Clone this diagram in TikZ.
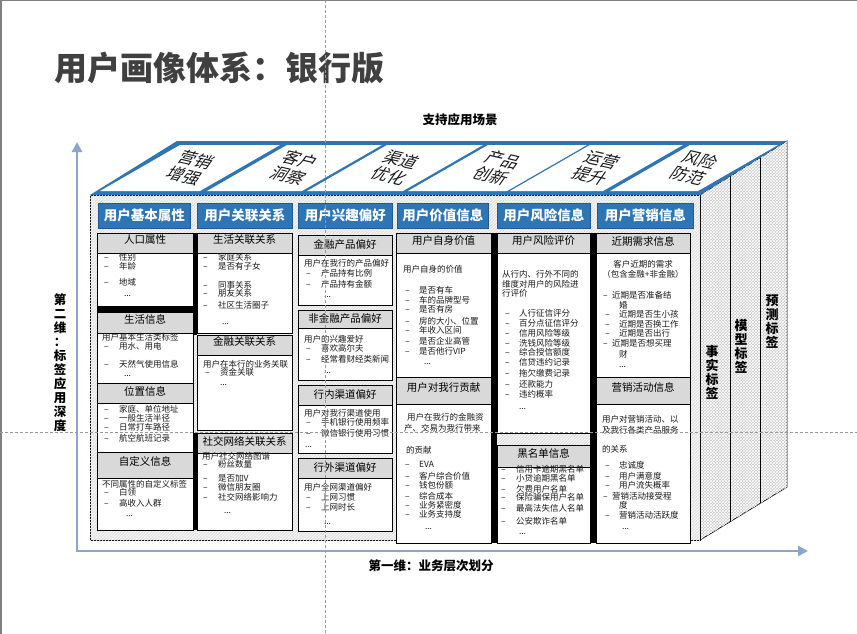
\documentclass[tikz,border=0pt]{standalone}
\usepackage{fontspec}
\setmainfont{Noto Sans CJK SC}
\usetikzlibrary{patterns,arrows.meta}
\definecolor{hblue}{HTML}{2E75B6}
\definecolor{hbluedk}{HTML}{1F5A96}
\definecolor{gfill}{HTML}{D9D9D9}
\definecolor{facegray}{HTML}{E2E2E2}
\definecolor{sidegray}{HTML}{CDCDCD}
\definecolor{axisc}{HTML}{8AA6CC}
\definecolor{titlec}{HTML}{404040}
\definecolor{txt}{HTML}{1A1A1A}
\newcount\tlc
\newcommand{\tl}[3]{\global\advance\tlc by 1\relax\node[ctext] (tl\the\tlc) at (#1,#2) {#3};}
\newcommand{\itm}[4]{\tl{#1}{#3}{–}\tl{#2}{#3}{#4}}
\newcommand{\gtx}[3]{\global\advance\tlc by 1\relax\node[gtext] (gt\the\tlc) at (#1,#2) {#3};}
\newcommand{\bx}[6]{\node[#2, anchor=north west, minimum width={#5-#3}, minimum height={#6-#4}] (#1) at (#3,#4) {};}
\newcommand{\panel}[5]{\fill[white] (#2,191) -- (#3,191) -- (#3+80,145) -- (#2+80,145) -- cycle;
  \node[ptext] (#1a) at ({(#2+#3)/2+46},160) {#4};
  \node[ptext] (#1b) at ({(#2+#3)/2+34},176) {#5};}
\begin{document}
\begin{tikzpicture}[x=1pt,y=-1pt,
  ctext/.style={anchor=west, inner sep=0pt, outer sep=0pt, text height=6.2pt, text depth=1.2pt, font=\fontsize{8.5}{9.5}\selectfont, text=txt},
  gtext/.style={inner sep=0pt, font=\fontsize{10.5}{11}\selectfont, text=black},
  gbx/.style={draw=black, line width=0.8pt, fill=gfill, inner sep=0pt},
  cbx/.style={draw=black, line width=0.8pt, fill=white, inner sep=0pt},
  hdr/.style={fill=hblue, draw=hbluedk, line width=0.6pt, text=white, font=\bfseries\fontsize{13.5}{14}\selectfont, inner sep=0pt, anchor=north west, minimum height=25pt},
  ptext/.style={font=\fontsize{16.5}{17}\selectfont, text=txt, rotate=-13, xslant=0.4, inner sep=0pt},
  stext/.style={align=center, font=\bfseries\fontsize{13}{14}\selectfont, inner sep=0pt},
  lab/.style={font=\bfseries\fontsize{12.5}{14}\selectfont, inner sep=0pt},
  axisl/.style={draw=axisc, line width=2.6pt, -{Triangle[length=10pt,width=10pt]}},
  guide/.style={draw=gray!80, line width=0.6pt, dash pattern=on 3pt off 2pt}]
\useasboundingbox (0,0) rectangle (857,634);
\fill[white] (0,0) rectangle (857,634);
\draw[gray, line width=1.5pt] (0.75,634) -- (0.75,0.75) -- (857,0.75);

% title
\node[font=\bfseries\fontsize{33}{35}\selectfont, text=titlec, anchor=west, inner sep=0pt] (title) at (54,68) {用户画像体系：银行版};
\node[lab] (scene) at (460,120) {支持应用场景};

% axes
\coordinate (o) at (77,551);
\coordinate (ytop) at (77,142);
\coordinate (xend) at (808,551);
\draw[axisl] (o) -- (ytop);
\draw[axisl] ([xshift=-1.3pt]o) -- (xend);
\node[lab] (xl) at (431,566) {第一维：业务层次划分};
\node[lab, align=center, font=\bfseries\fontsize{12.5}{14}\selectfont] (yl) at (60,363) {第\\二\\维\\：\\标\\签\\应\\用\\深\\度};

% side face
\draw[line width=0.8pt, fill=sidegray, postaction={pattern=crosshatch, pattern color=white}] (700,195) -- (787,141) -- (787,487) -- (700,540) -- cycle;
\draw[line width=0.8pt] (730,176.4) -- (730,521.7);
\draw[line width=0.8pt] (760,157.8) -- (760,503.4);
\node[stext] (s1) at (712,372) {事\\实\\标\\签};
\node[stext] (s2) at (741,346) {模\\型\\标\\签};
\node[stext] (s3) at (772,322) {预\\测\\标\\签};

% top face
\fill[hblue] (90,195) -- (700,195) -- (787,141) -- (177,141) -- cycle;
\panel{p1}{100}{200}{营销}{增强}
\panel{p2}{207}{302}{客户}{洞察}
\panel{p3}{307}{403}{渠道}{优化}
\panel{p4}{408}{507}{产品}{创新}
\panel{p5}{510}{603}{运营}{提升}
\panel{p6}{610}{698}{风险}{防范}

% front face
\draw[line width=0.8pt, fill=facegray, postaction={pattern=north east lines, pattern color=white}] (90,195) rectangle (700,540);

% blue headers
\node[hdr, minimum width=92pt] (h1) at (98,203) {用户基本属性};
\node[hdr, minimum width=95pt] (h2) at (197,203) {用户关联关系};
\node[hdr, minimum width=94pt] (h3) at (298,203) {用户兴趣偏好};
\node[hdr, minimum width=91pt] (h4) at (397,203) {用户价值信息};
\node[hdr, minimum width=93pt] (h5) at (497,203) {用户风险信息};
\node[hdr, minimum width=96pt] (h6) at (597,203) {用户营销信息};

% black bars
\fill[black] (193,233) rectangle (197,335);
\fill[black] (193,433) rectangle (197,530);
\fill[black] (97,306) rectangle (193,312);
\fill[black] (490,233) rectangle (497,543);
\fill[black] (590,233) rectangle (596,543);

% column 1
\bx{a1g}{gbx}{97}{233}{193}{253}
\bx{a1c}{cbx}{97}{253}{193}{306}
\bx{a2g}{gbx}{97}{312}{193}{333}
\bx{a2c}{cbx}{97}{333}{193}{383}
\bx{a3g}{gbx}{97}{383}{193}{403}
\bx{a3c}{cbx}{97}{403}{193}{452}
\bx{a4g}{gbx}{97}{452}{193}{478}
\bx{a4c}{cbx}{97}{478}{193}{530}
% column 2
\bx{b1g}{gbx}{197}{233}{292}{253}
\bx{b1c}{cbx}{197}{253}{292}{333}
\bx{b2g}{gbx}{197}{335}{292}{355}
\bx{b2c}{cbx}{197}{355}{292}{430}
\bx{b3g}{gbx}{197}{433}{292}{453}
\bx{b3c}{cbx}{197}{453}{292}{530}
% column 3
\bx{c1g}{gbx}{298}{235}{392}{255}
\bx{c1c}{cbx}{298}{255}{392}{305}
\bx{c2g}{gbx}{298}{310}{392}{328}
\bx{c2c}{cbx}{298}{328}{392}{380}
\bx{c3g}{gbx}{298}{385}{392}{405}
\bx{c3c}{cbx}{298}{405}{392}{453}
\bx{c4g}{gbx}{298}{458}{392}{478}
\bx{c4c}{cbx}{298}{478}{392}{531}
% column 4
\bx{d1g}{gbx}{396}{233}{491}{253}
\bx{d1c}{cbx}{396}{253}{491}{377}
\bx{d2g}{gbx}{396}{377}{491}{404}
\bx{d2c}{cbx}{396}{404}{491}{543}
% column 5
\bx{e1g}{gbx}{497}{233}{590}{253}
\bx{e1c}{cbx}{497}{253}{590}{433}
\bx{e2g}{gbx}{497}{445}{590}{467}
\bx{e2c}{cbx}{497}{467}{590}{543}
% column 6
\bx{f1g}{gbx}{596}{233}{690}{253}
\bx{f1c}{cbx}{596}{253}{690}{377}
\bx{f2g}{gbx}{596}{377}{690}{404}
\bx{f2c}{cbx}{596}{404}{690}{543}

% gray header texts
\gtx{145}{240}{人口属性}
\gtx{145}{319}{生活信息}
\gtx{145}{391}{位置信息}
\gtx{145}{461}{自定义信息}
\gtx{244.5}{240}{生活关联关系}
\gtx{244.5}{342}{金融关联关系}
\gtx{244.5}{441}{社交网络关联关系}
\gtx{345}{244}{金融产品偏好}
\gtx{345}{318}{非金融产品偏好}
\gtx{345}{395}{行内渠道偏好}
\gtx{345}{468}{行外渠道偏好}
\gtx{443.5}{241}{用户自身价值}
\gtx{443.5}{388}{用户对我行贡献}
\gtx{543.5}{241}{用户风险评价}
\gtx{543.5}{453}{黑名单信息}
\gtx{643}{241}{近期需求信息}
\gtx{643}{387}{营销活动信息}

% column 1 content
\itm{104}{119}{258}{性别}
\itm{104}{119}{267}{年龄}
\itm{104}{119}{283}{地域}
\tl{124}{294}{...}
\tl{102}{338}{用户基本生活类标签}
\itm{104}{119}{347}{用水、用电}
\itm{104}{119}{365}{天然气使用信息}
\tl{124}{374}{...}
\itm{104}{119}{410}{家庭、单位地址}
\itm{104}{119}{419}{一般生活半径}
\itm{104}{119}{428}{日常打车路径}
\itm{104}{119}{439}{航空航班记录}
\tl{102}{485}{不同属性的自定义标签}
\itm{104}{119}{493}{白领}
\itm{104}{119}{504}{高收入人群}
\tl{126}{514}{...}
% column 2 content
\itm{203}{218}{258}{家庭关系}
\itm{203}{218}{267}{是否有子女}
\itm{203}{218}{286}{同事关系}
\itm{203}{218}{294}{朋友关系}
\itm{203}{218}{306}{社区生活圈子}
\tl{222}{322}{...}
\tl{203}{365}{用户在本行的业务关联}
\itm{205}{220}{373}{资金关联}
\tl{220}{383}{...}
\tl{202}{457}{用户社交网络图谱}
\itm{203}{218}{465}{粉丝数量}
\itm{203}{218}{479}{是否加V}
\itm{203}{218}{488}{微信朋友圈}
\itm{203}{218}{498}{社交网络影响力}
\tl{224}{511}{...}
% column 3 content
\tl{304}{264}{用户在我行的产品偏好}
\itm{306}{321}{274}{产品持有比例}
\itm{306}{321}{285}{产品持有金额}
\tl{324}{295}{...}
\tl{304}{340}{用户的兴趣爱好}
\itm{306}{321}{349}{喜欢高尔夫}
\itm{306}{321}{360}{经常看财经类新闻}
\tl{324}{371}{...}
\tl{304}{414}{用户对我行渠道使用}
\itm{306}{321}{423}{手机银行使用频率}
\itm{306}{321}{434}{微信银行使用习惯}
\tl{305}{445}{...}
\tl{304}{488}{用户全网渠道偏好}
\itm{306}{321}{498}{上网习惯}
\itm{306}{321}{508}{上网时长}
\tl{324}{522}{...}
% column 4 content
\tl{403}{270}{用户自身的价值}
\itm{405}{419}{291}{是否有车}
\itm{405}{419}{301}{车的品牌型号}
\itm{405}{419}{310}{是否有房}
\itm{405}{419}{322}{房的大小、位置}
\itm{405}{419}{331}{年收入区间}
\itm{405}{419}{342}{是否企业高管}
\itm{405}{419}{352}{是否他行VIP}
\tl{424}{362}{...}
\tl{407}{418}{用户在我行的金融资}
\tl{404}{429}{产、交易为我行带来}
\tl{406}{451}{的贡献}
\itm{405}{419}{465}{EVA}
\itm{405}{419}{477}{客户综合价值}
\itm{405}{419}{486}{钱包份额}
\itm{405}{419}{497}{综合成本}
\itm{405}{419}{506}{业务紧密度}
\itm{405}{419}{515}{业务支持度}
\tl{425}{527}{...}
% column 5 content
\tl{502}{275}{从行内、行外不同的}
\tl{502}{285}{维度对用户的风险进}
\tl{502}{294}{行评价}
\itm{505}{519}{314}{人行征信评分}
\itm{505}{519}{324}{百分点征信评分}
\itm{505}{519}{334}{信用风险等级}
\itm{505}{519}{344}{洗钱风险等级}
\itm{505}{519}{353}{综合授信额度}
\itm{505}{519}{363}{信贷违约记录}
\itm{505}{519}{374}{拖欠缴费记录}
\itm{505}{519}{385}{还款能力}
\itm{505}{519}{395}{违约概率}
\tl{519}{407}{...}
\itm{501}{516}{470}{信用卡逾期黑名单}
\itm{501}{516}{479}{小贷逾期黑名单}
\itm{501}{516}{490}{欠费用户名单}
\itm{501}{516}{498}{保险骗保用户名单}
\itm{501}{516}{509}{最高法失信人名单}
\itm{501}{516}{522}{公安欺诈名单}
\tl{519}{532}{...}
% column 6 content
\node[ctext, anchor=center] (fa) at (643,265) {客户近期的需求};
\node[ctext, anchor=center] (fb) at (643,275) {（包含金融+非金融）};
\itm{603}{612}{296}{近期是否准备结}
\tl{619}{306}{婚}
\itm{605}{619}{315}{近期是否生小孩}
\itm{605}{619}{325}{近期是否换工作}
\itm{605}{619}{334}{近期是否出行}
\itm{603}{612}{344}{近期是否想买理}
\tl{619}{355}{财}
\tl{619}{365}{...}
\tl{602}{420}{用户对营销活动、以}
\tl{602}{431}{及我行各类产品服务}
\tl{602}{450}{的关系}
\itm{605}{619}{466}{忠诚度}
\itm{605}{619}{477}{用户满意度}
\itm{605}{619}{486}{用户流失概率}
\itm{603}{612}{497}{营销活动接受程}
\tl{619}{506}{度}
\itm{605}{619}{516}{营销活动活跃度}
\tl{622}{527}{...}

% guides
\draw[guide] (325,0) -- (325,634);
\draw[guide] (0,432) -- (857,432);
\end{tikzpicture}
\end{document}
